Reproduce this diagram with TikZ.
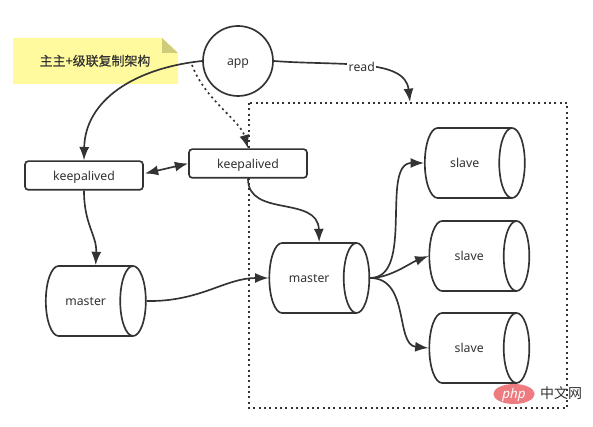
\documentclass[tikz,border=0pt]{standalone}
\usepackage{fontspec}
\setmainfont{Noto Sans}
\newfontfamily\cjkfont{Noto Sans CJK SC}
\newfontfamily\titlefont[FakeBold=0.25]{Noto Sans CJK SC}
\usetikzlibrary{arrows.meta,shapes.geometric}
\definecolor{linegray}{HTML}{333333}
\definecolor{notefill}{HTML}{FFFA9D}
\definecolor{notefold}{HTML}{CFCB78}
\definecolor{phpred}{HTML}{EE7B7F}
\tikzset{
  every node/.style = {text = linegray, text height = 7.5pt, text depth = 0.5pt, font = \fontsize{9.2pt}{11pt}\selectfont},
  link/.style = {draw = linegray, line width = 1.25pt, -{Latex[length = 10pt, width = 7.5pt]}},
  dotlink/.style = {link, dash pattern = on 1.5pt off 2.5pt},
  keepbox/.style = {draw = linegray, line width = 1.25pt, rounded corners = 2.5pt, fill = white, minimum width = 88.5pt, minimum height = 21.5pt, inner sep = 0pt},
  drum/.style = {draw = linegray, line width = 1.25pt, shape = cylinder, shape border rotate = 0, aspect = 2.4, minimum width = 52.5pt, minimum height = 75pt, inner sep = 0pt, fill = white, execute at end node = \hspace{5pt}}
}
\begin{document}
\begin{tikzpicture}[x = 0.75pt, y = -0.75pt]
\useasboundingbox (0,0) rectangle (593,427);
\fill [notefill] (13,38) -- (162,38) -- (178,53) -- (178,84) -- (13,84) -- cycle;
\fill [notefold] (162,38) -- (178,53) -- (162,53) -- cycle;
\node (title) at (95,61) {\titlefont\fontsize{9.7pt}{11pt}\selectfont 主主+级联复制架构};

\draw [linegray, line width = 1.25pt, dash pattern = on 1.5pt off 2.5pt] (249,103) rectangle (567,408);
\coordinate (readend) at (410,102);

\node (app) [draw = linegray, line width = 1.25pt, circle, minimum size = 52.5pt, inner sep = 0pt] at (238,61) {app};
\coordinate (appleft) at (192,65);
\node (keepa) [keepbox] at (84,175.5) {keepalived};
\node (keepb) [keepbox] at (248,163.5) {keepalived};
\node (masterl) [drum] at (89,301) {master};
\node (masterc) [drum] at (312.5,278) {master};
\node (slavea) [drum] at (468,163) {slave};
\node (slaveb) [drum] at (472.5,256) {slave};
\node (slavec) [drum] at (472.5,348) {slave};

\draw [link] (app.east) .. controls (340,66) and (405,58) .. node [pos = 0.48, fill = white, inner sep = 1pt] {read} (readend);
\draw [link] (app.west) .. controls (135,68) and (85,100) .. (keepa.north);
\draw [dotlink] (appleft) .. controls (205,100) and (240,120) .. (keepb.north);
\draw [link, {Latex[length = 10pt, width = 7.5pt]}-{Latex[length = 10pt, width = 7.5pt]}] (keepa.east) ++(1,-2) coordinate (keepaend) (keepaend) -- (keepb.west);
\draw [link] (keepa.south) .. controls (84,225) and (97,235) .. ([xshift = 5pt]masterl.north);
\draw [link] (keepb.south) .. controls (248,218) and (318,195) .. ([xshift = 5pt]masterc.north);
\draw [link] (masterl.east) .. controls (200,302) and (225,278) .. (masterc.west);
\draw [link] (masterc.east) .. controls (415,278) and (380,163) .. (slavea.west);
\draw [link] (masterc.east) .. controls (390,278) and (410,263) .. (slaveb.west);
\draw [link] (masterc.east) .. controls (410,278) and (395,345) .. (slavec.west);

\node (logo) [fill = phpred, ellipse, minimum width = 31pt, minimum height = 15pt, inner sep = 0pt, text = white, font = \itshape\fontsize{10pt}{11pt}\selectfont] at (514,394) {php};
\node (site) at (561,394) {\cjkfont\fontsize{10.5pt}{11pt}\selectfont 中文网};
\end{tikzpicture}
\end{document}
